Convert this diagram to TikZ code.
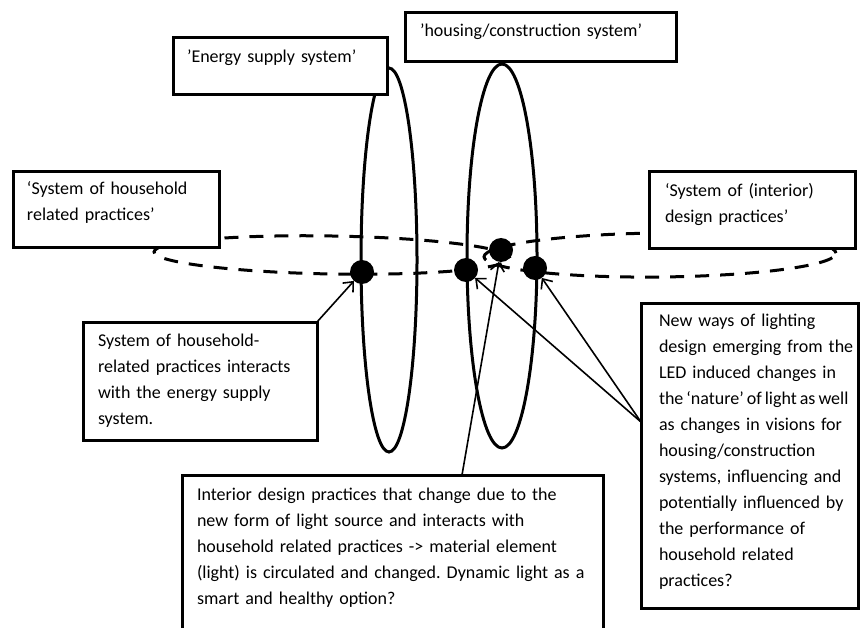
\documentclass[tikz,border=0pt]{standalone}
\usepackage{fontspec}
\setmainfont{Carlito}
\usetikzlibrary{arrows.meta}
\frenchspacing

\begin{document}
\begin{tikzpicture}[x=1pt, y=-1pt,
  sysbox/.style={draw=black, line width=3pt, fill=white, rectangle,
    inner sep=0pt, outer sep=0pt, anchor=north west},
  boxtext/.style={anchor=base west, inner sep=0pt, outer sep=0pt, align=left,
    text width=#1, font=\fontsize{18}{26}\selectfont},
  boxtext/.default=420pt,
  ring/.style={draw=black, line width=3pt},
  dashring/.style={draw=black, line width=3pt, dash pattern=on 14pt off 11pt},
  meet/.style={circle, fill=black, minimum size=24pt, inner sep=0pt, outer sep=0pt},
  pointer/.style={draw=black, line width=1.6pt,
    -{Straight Barb[length=8pt, width=14pt, line width=1.6pt]}}
]
\clip (0,0) rectangle (861,628);
\fill[white] (0,0) rectangle (861,628);

% the two practice systems (dashed, lying)
\begin{scope}[rotate around={-1:(332,255)}]
  \draw[dashring] (332,255) ellipse [x radius=178pt, y radius=19pt];
\end{scope}
\begin{scope}[rotate around={0.6:(660,255)}]
  \draw[dashring] (660,255) ellipse [x radius=176pt, y radius=22pt];
\end{scope}

% the two technical systems (solid, upright)
\draw[ring] (389,260) ellipse [x radius=28pt, y radius=192pt];
\draw[ring] (502,256) ellipse [x radius=35pt, y radius=192pt];

% points where the systems meet
\node[meet] (d1) at (362,272) {};
\node[meet] (d2) at (466,270) {};
\node[meet] (d3) at (501,250) {};
\node[meet] (d4) at (535,268) {};

% system labels
\node[sysbox, minimum width=214pt, minimum height=57pt] (energy) at (173,38) {};
\node[boxtext] (energyT) at (187,63) {’Energy supply system’};

\node[sysbox, minimum width=271pt, minimum height=49pt] (housing) at (405,13) {};
\node[boxtext] (housingT) at (420,37) {’housing/construction system’};

\node[sysbox, minimum width=206pt, minimum height=75pt] (household) at (13,172) {};
\node[boxtext] (householdT) at (27,195) {‘System of household\\related practices’};

\node[sysbox, minimum width=206pt, minimum height=76pt] (design) at (649,172) {};
\node[boxtext] (designT) at (665,197) {‘System of (interior)\\design practices’};

% explanatory boxes
\node[sysbox, minimum width=234pt, minimum height=118pt] (hhbox) at (83,322) {};
\node[boxtext] (hhT) at (98,346) {System of household-\\related practices interacts\\with the energy supply\\system.};

\node[sysbox, minimum width=421pt, minimum height=170pt] (idbox) at (182,475) {};
\node[boxtext=500pt] (idT) at (197,500) {Interior design practices that change due to the\\new form of light source and interacts with\\household related practices -> material element\\(light) is circulated and changed. Dynamic light as a\\smart and healthy option?};

\node[sysbox, minimum width=217pt, minimum height=305pt] (ledbox) at (641,303) {};
\node[boxtext] (ledT) at (659,326) {New ways of lighting\\design emerging from the\\LED induced changes in\\{\spaceskip=3pt the ‘nature’ of light as well}\\as changes in visions for\\housing/construction\\systems, influencing and\\potentially influenced by\\the performance of\\household related\\practices?};

% pointers from the explanations to the meeting points
\coordinate (idfoot) at (462,475);
\coordinate (ledfoot) at (641,422);
\draw[pointer] (hhbox.north east) -- (d1);
\draw[pointer] (idfoot) -- (d3);
\draw[pointer] (ledfoot) -- (d2);
\draw[pointer] (ledfoot) -- (d4);
\end{tikzpicture}
\end{document}
